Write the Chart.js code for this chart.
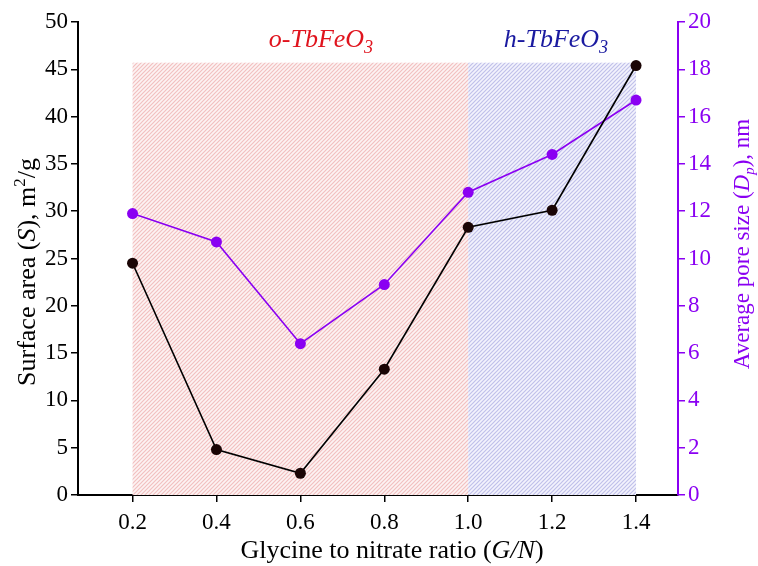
<!DOCTYPE html>
<html>
<head>
<meta charset="utf-8">
<script src="https://cdn.jsdelivr.net/npm/chart.js@4.4.0/dist/chart.umd.min.js"></script>
<style>
  html, body { margin: 0; padding: 0; background: #fff; }
  #wrap { width: 758px; height: 566px; }
</style>
</head>
<body>
<div id="wrap"><canvas id="c" width="758" height="566"></canvas></div>
<script>
// Data
const ratios = [0.2, 0.4, 0.6, 0.8, 1.0, 1.2, 1.4];
const surfaceArea = [24.5, 4.8, 2.3, 13.3, 28.3, 30.1, 45.4];
const poreSize = [11.9, 10.7, 6.4, 8.9, 12.8, 14.4, 16.7];
const xTicks = [0.2, 0.4, 0.6, 0.8, 1.0, 1.2, 1.4];

// Phase regions (x from, x to, top on left axis)
const orthoRegion = [0.2, 1.0, 45.7];
const hexRegion = [1.0, 1.4, 45.7];

const PURPLE = '#8a00f2';
const FONT = '"Liberation Serif", "Times New Roman", serif';

function makeHatch(bg, color) {
  const n = 4;
  const p = document.createElement('canvas');
  p.width = n; p.height = n;
  const g = p.getContext('2d');
  g.fillStyle = bg;
  g.fillRect(0, 0, n, n);
  g.strokeStyle = color;
  g.lineWidth = 1.2;
  g.beginPath();
  g.moveTo(0, n); g.lineTo(n, 0);
  g.moveTo(-1, 1); g.lineTo(1, -1);
  g.moveTo(n - 1, n + 1); g.lineTo(n + 1, n - 1);
  g.stroke();
  return p;
}

// draw a row of text runs, centred on (x, y)
function drawRuns(ctx, runs, x, y, size, color, rot) {
  ctx.save();
  ctx.translate(x, y);
  if (rot) ctx.rotate(rot);
  ctx.fillStyle = color;
  ctx.textBaseline = 'middle';
  ctx.textAlign = 'left';
  let total = 0;
  runs.forEach(r => {
    const s = size * (r.scale || 1);
    ctx.font = (r.italic ? 'italic ' : '') + s + 'px ' + FONT;
    r.w = ctx.measureText(r.t).width;
    total += r.w;
  });
  let cx = -total / 2;
  runs.forEach(r => {
    const s = size * (r.scale || 1);
    ctx.font = (r.italic ? 'italic ' : '') + s + 'px ' + FONT;
    ctx.fillText(r.t, cx, (r.dy || 0) * size);
    cx += r.w;
  });
  ctx.restore();
}

const regionsPlugin = {
  id: 'regions',
  beforeDatasetsDraw(chart) {
    const { ctx, scales } = chart;
    const x = scales.x, y = scales.y;
    [[orthoRegion, '#fdf3f3', '#f2c0c0'], [hexRegion, '#f3f3fd', '#c0c0ea']].forEach(([r, bg, col]) => {
      const pat = ctx.createPattern(makeHatch(bg, col), 'repeat');
      const x0 = x.getPixelForValue(r[0]), x1 = x.getPixelForValue(r[1]);
      const yt = y.getPixelForValue(r[2]), yb = y.getPixelForValue(0);
      ctx.save();
      ctx.fillStyle = pat;
      ctx.fillRect(x0, yt, x1 - x0, yb - yt);
      ctx.restore();
    });
  },
  afterDraw(chart) {
    const { ctx } = chart;
    drawRuns(ctx, [{ t: 'o-TbFeO', italic: true }, { t: '3', italic: true, scale: 0.7, dy: 0.3 }],
      321, 40, 26, '#e0141e');
    drawRuns(ctx, [{ t: 'h-TbFeO', italic: true }, { t: '3', italic: true, scale: 0.7, dy: 0.3 }],
      556, 40, 26, '#1a1aa0');
    drawRuns(ctx, [{ t: 'Surface area (' }, { t: 'S', italic: true }, { t: '), m' },
      { t: '2', scale: 0.65, dy: -0.3 }, { t: '/g' }], 28, 272, 26, '#000', -Math.PI / 2);
    drawRuns(ctx, [{ t: 'Average pore size (' }, { t: 'D', italic: true },
      { t: 'p', italic: true, scale: 0.65, dy: 0.3 }, { t: '), nm' }], 743, 244, 23, PURPLE, -Math.PI / 2);
    drawRuns(ctx, [{ t: 'Glycine to nitrate ratio (' }, { t: 'G/N', italic: true }, { t: ')' }],
      392, 551, 26, '#000');
  }
};

const tickFont = { family: FONT, size: 23 };

new Chart(document.getElementById('c'), {
  type: 'line',
  data: {
    datasets: [
      {
        label: 'S',
        data: ratios.map((r, i) => ({ x: r, y: surfaceArea[i] })),
        yAxisID: 'y',
        borderColor: '#000',
        backgroundColor: '#1a0505',
        borderWidth: 1.6,
        pointRadius: 5.5,
        pointBorderWidth: 0,
        tension: 0
      },
      {
        label: 'Dp',
        data: ratios.map((r, i) => ({ x: r, y: poreSize[i] })),
        yAxisID: 'y1',
        borderColor: PURPLE,
        backgroundColor: PURPLE,
        borderWidth: 1.6,
        pointRadius: 5.5,
        pointBorderWidth: 0,
        tension: 0
      }
    ]
  },
  options: {
    responsive: false,
    animation: false,
    devicePixelRatio: 1,
    layout: { padding: { top: 22, bottom: 0, left: 0, right: 0 } },
    plugins: { legend: { display: false }, tooltip: { enabled: false } },
    scales: {
      x: {
        type: 'linear',
        min: 0.07,
        max: 1.5,
        afterBuildTicks: s => { s.ticks = xTicks.map(v => ({ value: v })); },
        afterFit: s => { s.height = 71; },
        grid: { drawOnChartArea: false, tickLength: 7, color: '#000', lineWidth: 1.5 },
        border: { color: '#000', width: 2 },
        ticks: { color: '#000', font: tickFont, padding: 7, maxRotation: 0,
          callback: v => Number(v).toFixed(1) }
      },
      y: {
        position: 'left',
        min: 0,
        max: 50,
        afterFit: s => { s.width = 78; },
        grid: { drawOnChartArea: false, tickLength: 7, color: '#000', lineWidth: 1.5 },
        border: { color: '#000', width: 2 },
        ticks: { stepSize: 5, color: '#000', font: tickFont, padding: 3 }
      },
      y1: {
        position: 'right',
        min: 0,
        max: 20,
        afterFit: s => { s.width = 80; },
        grid: { drawOnChartArea: false, tickLength: 7, color: PURPLE, lineWidth: 1.5 },
        border: { color: PURPLE, width: 2 },
        ticks: { stepSize: 2, color: PURPLE, font: tickFont, padding: 3 }
      }
    }
  },
  plugins: [regionsPlugin]
});
</script>
</body>
</html>
